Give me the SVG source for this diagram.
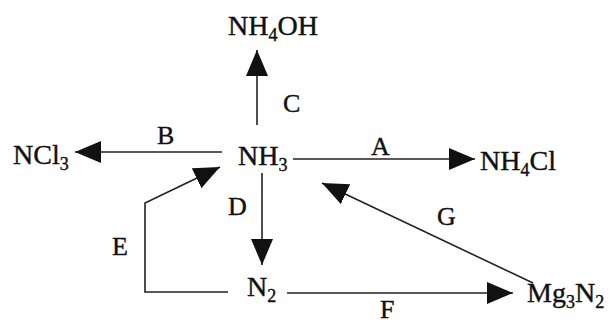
<svg xmlns="http://www.w3.org/2000/svg" width="613" height="325" viewBox="0 0 613 325">
<defs>
<marker id="ah" markerUnits="userSpaceOnUse" markerWidth="27" markerHeight="23" refX="26" refY="11" orient="auto">
<path d="M0,0 L26,11 L0,22 z" fill="#111"/>
</marker>
<style>
.t{font-family:"Liberation Serif","Times New Roman",serif;font-size:28px;fill:#111;stroke:#111;stroke-width:0.4}
.l{font-family:"Liberation Serif","Times New Roman",serif;font-size:26px;fill:#111;stroke:#111;stroke-width:0.4}
.s{font-size:18px}
.c{fill:none;stroke:#222;stroke-width:1.6}
</style>
</defs>
<rect width="613" height="325" fill="#fff"/>
<g id="connectors">
<line class="c" x1="257" y1="125" x2="257" y2="50" marker-end="url(#ah)"/>
<line class="c" x1="222" y1="152" x2="75" y2="152" marker-end="url(#ah)"/>
<line class="c" x1="293" y1="159" x2="475" y2="159" marker-end="url(#ah)"/>
<line class="c" x1="262" y1="173" x2="262" y2="265" marker-end="url(#ah)"/>
<polyline class="c" points="228,292 145,292 145,203 220,167" marker-end="url(#ah)"/>
<line class="c" x1="533" y1="283" x2="322" y2="183" marker-end="url(#ah)"/>
<line class="c" x1="287" y1="293" x2="513" y2="293" marker-end="url(#ah)"/>
<text class="l" x="283" y="112">C</text>
<text class="l" x="157" y="144">B</text>
<text class="l" x="371" y="155">A</text>
<text class="l" x="228" y="215">D</text>
<text class="l" x="112" y="255">E</text>
<text class="l" x="437" y="225">G</text>
<text class="l" x="380" y="318">F</text>
</g>
<g id="nh4oh"><text class="t" x="228" y="35">NH<tspan class="s" dy="6">4</tspan><tspan dy="-6">OH</tspan></text></g>
<g id="nh3"><text class="t" x="238" y="165">NH<tspan class="s" dy="6">3</tspan></text></g>
<g id="ncl3"><text class="t" x="13" y="164">NCl<tspan class="s" dy="6">3</tspan></text></g>
<g id="nh4cl"><text class="t" x="480" y="170">NH<tspan class="s" dy="6">4</tspan><tspan dy="-6">Cl</tspan></text></g>
<g id="n2"><text class="t" x="247" y="296">N<tspan class="s" dy="6">2</tspan></text></g>
<g id="mg3n2"><text class="t" x="527" y="302">Mg<tspan class="s" dy="6">3</tspan><tspan dy="-6">N</tspan><tspan class="s" dy="6">2</tspan></text></g>
</svg>
